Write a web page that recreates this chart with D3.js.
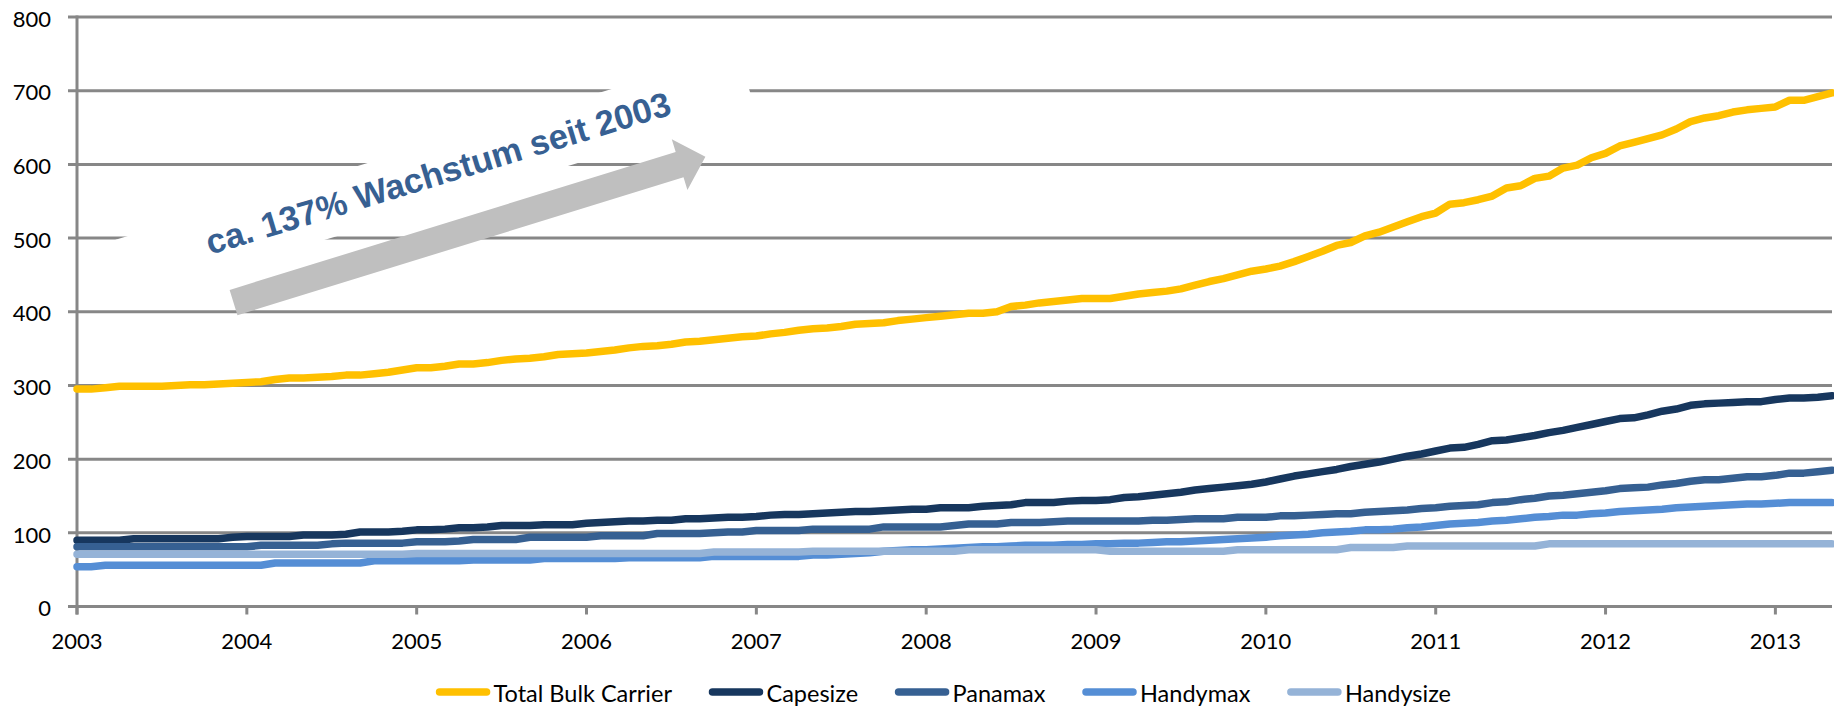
<!DOCTYPE html>
<html>
<head>
<meta charset="utf-8">
<script src="https://cdn.jsdelivr.net/npm/d3@7/dist/d3.min.js"></script>
<style>
  html, body { margin: 0; padding: 0; background: #ffffff; }
  svg { display: block; }
</style>
</head>
<body>
<svg id="chart" width="1834" height="707"></svg>
<script>
// Fleet size of bulk carriers, monthly values Jan 2003 – May 2013
const yearLabels = ["2003","2004","2005","2006","2007","2008","2009","2010","2011","2012","2013"];
const valueTicks = [0, 100, 200, 300, 400, 500, 600, 700, 800];
const seriesNames = ["Total Bulk Carrier", "Capesize", "Panamax", "Handymax", "Handysize"];
const seriesColors = ["#FFC000", "#17375E", "#366092", "#558ED5", "#95B3D7"];

const totalBulk = [
  295, 295, 297, 299, 299, 299, 299, 300, 301, 301, 302, 303,
  304, 305, 308, 310, 310, 311, 312, 314, 314, 316, 318, 321,
  324, 324, 326, 329, 329, 331, 334, 336, 337, 339, 342, 343,
  344, 346, 348, 351, 353, 354, 356, 359, 360, 362, 364, 366,
  367, 370, 372, 375, 377, 378, 380, 383, 384, 385, 388, 390,
  392, 394, 396, 398, 398, 400, 407, 409, 412, 414, 416, 418,
  418, 418, 421, 424, 426, 428, 431, 436, 441, 445, 450, 455,
  458, 462, 468, 475, 482, 490, 494, 503, 508, 515, 522, 529,
  534, 546, 548, 552, 557, 568, 571, 581, 584, 595, 599, 609,
  615, 625, 630, 635, 640, 648, 658, 663, 666, 671, 674, 676,
  678, 687, 687, 692, 697
];
const capesize = [
  90, 90, 90, 90, 92, 92, 92, 92, 92, 92, 92, 94,
  95, 95, 95, 95, 97, 97, 97, 98, 101, 101, 101, 102,
  104, 104, 105, 107, 107, 108, 110, 110, 110, 111, 111, 111,
  113, 114, 115, 116, 116, 117, 117, 119, 119, 120, 121, 121,
  122, 124, 125, 125, 126, 127, 128, 129, 129, 130, 131, 132,
  132, 134, 134, 134, 136, 137, 138, 141, 141, 141, 143, 144,
  144, 145, 148, 149, 151, 153, 155, 158, 160, 162, 164, 166,
  169, 173, 177, 180, 183, 186, 190, 193, 196, 200, 204, 207,
  211, 215, 216, 220, 225, 226, 229, 232, 236, 239, 243, 247,
  251, 255, 256, 260, 265, 268, 273, 275, 276, 277, 278, 278,
  281, 283, 283, 284, 286
];
const panamax = [
  81, 81, 81, 81, 81, 81, 81, 81, 81, 81, 81, 81,
  81, 83, 83, 83, 83, 83, 85, 86, 86, 86, 86, 86,
  88, 88, 88, 89, 91, 91, 91, 91, 94, 94, 94, 94,
  94, 96, 96, 96, 96, 99, 99, 99, 99, 100, 101, 101,
  103, 103, 103, 103, 105, 105, 105, 105, 105, 108, 108, 108,
  108, 108, 110, 112, 112, 112, 114, 114, 114, 115, 116, 116,
  116, 116, 116, 116, 117, 117, 118, 119, 119, 119, 121, 121,
  121, 123, 123, 124, 125, 126, 126, 128, 129, 130, 131, 133,
  134, 136, 137, 138, 141, 142, 145, 147, 150, 151, 153, 155,
  157, 160, 161, 162, 165, 167, 170, 172, 172, 174, 176, 176,
  178, 181, 181, 183, 185
];
const handymax = [
  54, 54, 56, 56, 56, 56, 56, 56, 56, 56, 56, 56,
  56, 56, 59, 59, 59, 59, 59, 59, 59, 62, 62, 62,
  62, 62, 62, 62, 63, 63, 63, 63, 63, 65, 65, 65,
  65, 65, 65, 66, 66, 66, 66, 66, 66, 68, 68, 68,
  68, 68, 68, 68, 70, 70, 71, 72, 73, 75, 76, 77,
  77, 78, 79, 80, 81, 81, 82, 83, 83, 83, 84, 84,
  85, 85, 86, 86, 87, 88, 88, 89, 90, 91, 92, 93,
  94, 96, 97, 98, 100, 101, 102, 104, 104, 105, 107, 108,
  110, 112, 113, 114, 116, 117, 119, 121, 122, 124, 124, 126,
  127, 129, 130, 131, 132, 134, 135, 136, 137, 138, 139, 139,
  140, 141, 141, 141, 141
];
const handysize = [
  71, 71, 71, 71, 71, 71, 71, 71, 71, 71, 71, 71,
  71, 71, 71, 71, 71, 71, 71, 71, 71, 71, 71, 71,
  72, 72, 72, 72, 72, 72, 72, 72, 72, 72, 72, 72,
  72, 72, 72, 72, 72, 72, 72, 72, 72, 74, 74, 74,
  74, 74, 74, 74, 75, 75, 75, 75, 75, 75, 75, 75,
  75, 75, 75, 77, 77, 77, 77, 77, 77, 77, 77, 77,
  77, 75, 75, 75, 75, 75, 75, 75, 75, 75, 77, 77,
  77, 77, 77, 77, 77, 77, 80, 80, 80, 80, 82, 82,
  82, 82, 82, 82, 82, 82, 82, 82, 85, 85, 85, 85,
  85, 85, 85, 85, 85, 85, 85, 85, 85, 85, 85, 85,
  85, 85, 85, 85, 85
];

// Growth annotation, anchored in data units (month index, value)
const growthText = "ca. 137% Wachstum seit 2003";
const growthArrow = { from: [11.06, 412.5], to: [44.4, 610.4] };
const growthBox = { center: [25.32, 586.4], width: 650, height: 61, angle: -16.9 };

const series = [totalBulk, capesize, panamax, handymax, handysize];

const svg = d3.select("#chart");
const plot = { left: 77, right: 1832, top: 17, bottom: 606.5 };
const axisColor = "#878787";

const x = d3.scaleLinear().domain([0, totalBulk.length - 1]).range([plot.left, plot.right]);
const y = d3.scaleLinear().domain([0, 800]).range([plot.bottom, plot.top]);

svg.append("rect").attr("width", 1834).attr("height", 707).attr("fill", "#fff");

// horizontal gridlines (extend left as tick marks)
svg.append("g").selectAll("line").data(valueTicks).join("line")
  .attr("x1", plot.left - 9).attr("x2", plot.right)
  .attr("y1", d => y(d)).attr("y2", d => y(d))
  .attr("stroke", axisColor).attr("stroke-width", 3);

// y axis line
svg.append("line")
  .attr("x1", plot.left).attr("x2", plot.left)
  .attr("y1", y(800) - 1.5).attr("y2", plot.bottom + 8)
  .attr("stroke", axisColor).attr("stroke-width", 3);

// x ticks (one per year = every 12 months)
const yearIdx = yearLabels.map((_, i) => i * 12);
svg.append("g").selectAll("line").data(yearIdx).join("line")
  .attr("x1", d => x(d)).attr("x2", d => x(d))
  .attr("y1", plot.bottom).attr("y2", plot.bottom + 8)
  .attr("stroke", axisColor).attr("stroke-width", 3);

// y labels
svg.append("g").selectAll("text").data(valueTicks).join("text")
  .attr("x", 51).attr("y", d => y(d) + 9.7)
  .attr("text-anchor", "end")
  .attr("font-family", "Lato, 'Open Sans', sans-serif")
  .attr("font-size", 22).attr("fill", "#000")
  .text(d => d);

// x labels
svg.append("g").selectAll("text").data(yearLabels).join("text")
  .attr("x", (d, i) => x(yearIdx[i])).attr("y", 649)
  .attr("text-anchor", "middle")
  .attr("font-family", "Lato, 'Open Sans', sans-serif")
  .attr("font-size", 22).attr("fill", "#000")
  .text(d => d);

// annotation: white text box, grey arrow, rotated label
const [bx, by] = [x(growthBox.center[0]), y(growthBox.center[1])];
const boxG = svg.append("g").attr("transform", `translate(${bx},${by}) rotate(${growthBox.angle})`);
boxG.append("rect")
  .attr("x", -growthBox.width / 2).attr("y", -growthBox.height / 2)
  .attr("width", growthBox.width).attr("height", growthBox.height)
  .attr("fill", "#fff");

const ax0 = x(growthArrow.from[0]), ay0 = y(growthArrow.from[1]);
const ax1 = x(growthArrow.to[0]), ay1 = y(growthArrow.to[1]);
const aLen = Math.hypot(ax1 - ax0, ay1 - ay0);
const aAng = Math.atan2(ay1 - ay0, ax1 - ax0) * 180 / Math.PI;
const shaft = 13.25, head = 26.5, headLen = 27;
svg.append("polygon")
  .attr("transform", `translate(${ax0},${ay0}) rotate(${aAng})`)
  .attr("points", [
    [0, -shaft], [aLen - headLen, -shaft], [aLen - headLen, -head], [aLen, 0],
    [aLen - headLen, head], [aLen - headLen, shaft], [0, shaft]
  ].map(p => p.join(",")).join(" "))
  .attr("fill", "#BFBFBF");

boxG.append("text")
  .attr("x", 3).attr("y", 11.5)
  .attr("text-anchor", "middle")
  .attr("font-family", "'Liberation Sans', Arial, sans-serif")
  .attr("font-weight", "bold")
  .attr("font-size", 34.5)
  .attr("fill", "#376092")
  .text(growthText);

// series lines
const line = d3.line().x((d, i) => x(i)).y(d => y(d));
svg.append("g").selectAll("path").data(series).join("path")
  .attr("d", line)
  .attr("fill", "none")
  .attr("stroke", (d, i) => seriesColors[i])
  .attr("stroke-width", 7.5)
  .attr("stroke-linejoin", "round")
  .attr("stroke-linecap", "round");

// legend
const legend = svg.append("g");
const legendItems = legend.selectAll("g").data(seriesNames).join("g");
legendItems.append("line")
  .attr("x1", 3.5).attr("x2", 50.5).attr("y1", 692).attr("y2", 692)
  .attr("stroke", (d, i) => seriesColors[i])
  .attr("stroke-width", 7.5).attr("stroke-linecap", "round");
legendItems.append("text")
  .attr("x", 57.5).attr("y", 701.5)
  .attr("font-family", "Lato, 'Open Sans', sans-serif")
  .attr("font-size", 23.5).attr("fill", "#000")
  .text(d => d);
let cursor = 0;
const offsets = [];
legendItems.each(function () {
  offsets.push(cursor);
  const w = d3.select(this).select("text").node().getComputedTextLength();
  cursor += 57.5 + w + 37;
});
const legendWidth = cursor - 37;
const legendStart = 943.5 - legendWidth / 2;
legendItems.attr("transform", (d, i) => `translate(${legendStart + offsets[i]},0)`);
</script>
</body>
</html>
